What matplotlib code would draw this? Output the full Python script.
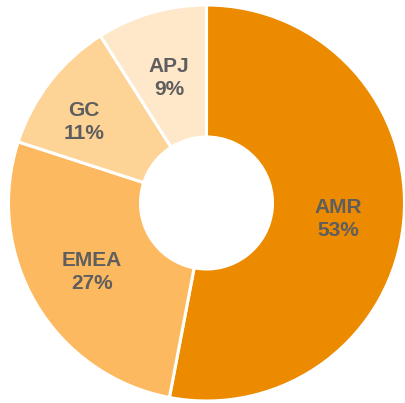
import numpy as np
import matplotlib.pyplot as plt

regions = ['AMR', 'EMEA', 'GC', 'APJ']
shares = [53, 27, 11, 9]
colors = ['#EC8A00', '#FDB95F', '#FDD396', '#FEE8C9']

plt.rcParams['font.family'] = ['Liberation Sans', 'DejaVu Sans']

fig = plt.figure(figsize=(4.05, 4.03), dpi=100)
ax = fig.add_axes([0, 0, 1, 1])

R = 198.0
wedges, _ = ax.pie(shares, colors=colors, startangle=90, counterclock=False,
                   radius=1.0, wedgeprops=dict(width=1 - 66 / R, edgecolor='white', linewidth=2.2))

# label placement: fraction of outer radius, angle nudge in degrees
label_r = [0.672, 0.675, 0.742, 0.659]
label_da = [-1.5, 0.5, 4.3, 0.5]
for w, name, pct, lr, da in zip(wedges, regions, shares, label_r, label_da):
    ang = np.deg2rad((w.theta1 + w.theta2) / 2 + da)
    ax.text(lr * np.cos(ang), lr * np.sin(ang), f'{name}\n{pct}%',
            ha='center', va='center', fontsize=15, fontweight='bold',
            color='#5E5E5E', linespacing=1.25)

ax.set_xlim(-206.5 / R, (405 - 206.5) / R)
ax.set_ylim(-(403 - 203) / R, 203 / R)
ax.set_aspect('auto')
ax.axis('off')

fig.savefig('out.png', dpi=100)
